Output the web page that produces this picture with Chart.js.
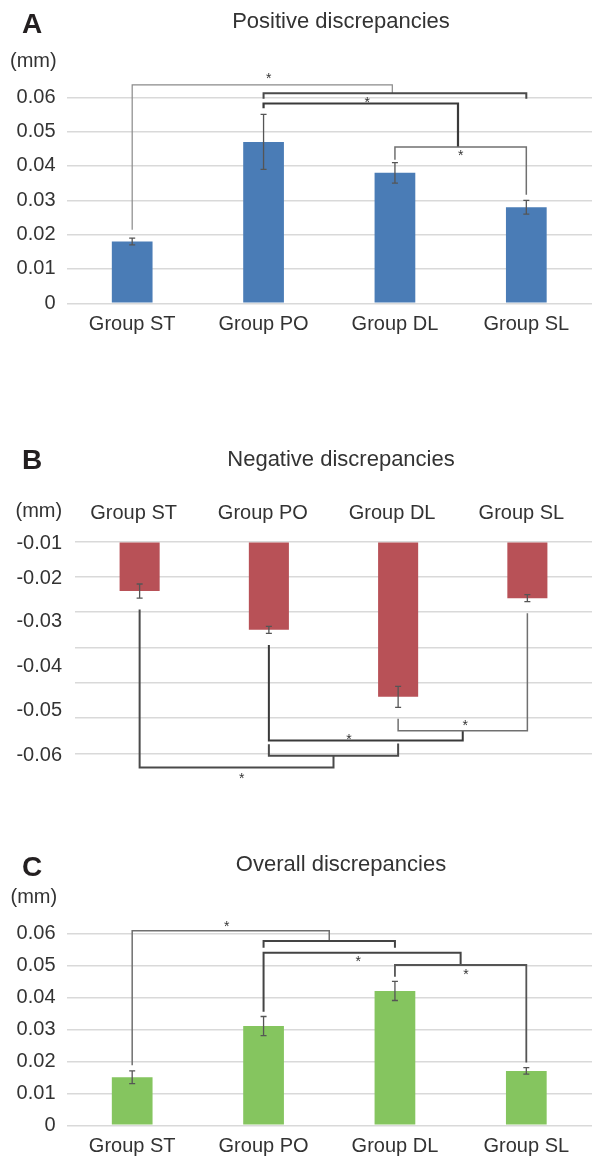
<!DOCTYPE html>
<html>
<head>
<meta charset="utf-8">
<script src="https://cdn.jsdelivr.net/npm/chart.js"></script>
<style>
  body { margin: 0; background: #fff; width: 592px; height: 1159px; position: relative; overflow: hidden; }
  canvas { position: absolute; left: 0; }
</style>
</head>
<body>
<canvas id="chartA" width="592" height="345" style="top:0"></canvas>
<canvas id="chartB" width="592" height="360" style="top:430px"></canvas>
<canvas id="chartC" width="592" height="319" style="top:840px"></canvas>
<script>
const groups = ['Group ST', 'Group PO', 'Group DL', 'Group SL'];

// means and error bar half-lengths (mm)
const posMean = [0.018, 0.047, 0.038, 0.028];
const posErr  = [0.001, 0.008, 0.003, 0.002];
const negMean = [-0.024, -0.035, -0.054, -0.026];
const negErr  = [0.002, 0.001, 0.003, 0.001];
const allMean = [0.015, 0.031, 0.042, 0.017];
const allErr  = [0.002, 0.003, 0.003, 0.001];

const posTicks = ['0', '0.01', '0.02', '0.03', '0.04', '0.05', '0.06'];
const allTicks = ['0', '0.01', '0.02', '0.03', '0.04', '0.05', '0.06'];
// panel B: gridlines every 0.01, labels sit off the gridlines in the original figure
const negGrid   = [-0.07, -0.06, -0.05, -0.04, -0.03, -0.02, -0.01];
const negTicks  = ['-0.01', '-0.02', '-0.03', '-0.04', '-0.05', '-0.06'];
const negTickAt = [-0.0104, -0.0204, -0.0327, -0.0455, -0.0578, -0.0706];

// significance brackets: [from cat, to cat, line level, end level at from, end level at to]
const posBrackets = [[0, 1.98, 0.0636, 0.0214, 0.0612], [1, 3, 0.0612, 0.0596, 0.0596],
                     [1, 2.48, 0.0582, 0.0568, 0.0455], [2, 3, 0.0455, 0.0418, 0.0316]];
const posStars = [[1.04, 0.0664], [1.79, 0.0596], [2.5, 0.0440]];

const negBrackets = [[0, 1.5, -0.0740, -0.0292, -0.0707], [1, 2, -0.0707, -0.0674, -0.0672],
                     [1, 2.5, -0.0664, -0.0393, -0.0636], [2, 3, -0.0636, -0.0602, -0.0303]];
const negStars = [[0.79, -0.0761], [1.62, -0.0650], [2.52, -0.0610]];

const allBrackets = [[0, 1.5, 0.0608, 0.0188, 0.0576], [1, 2, 0.0576, 0.0555, 0.0555],
                     [1, 2.5, 0.0539, 0.0355, 0.0501], [2, 3, 0.0501, 0.0464, 0.0196]];
const allStars = [[0.72, 0.0631], [1.72, 0.0522], [2.54, 0.0483]];

Chart.defaults.font.family = '"Liberation Sans", Arial, sans-serif';
Chart.defaults.color = '#333';
const FONT = '"Liberation Sans", Arial, sans-serif';
const GRID = '#d9d9d9';

function extras(c) {
  return {
    id: 'extras',
    afterDatasetsDraw(chart) {
      const {ctx, scales: {y}} = chart;
      const bars = chart.getDatasetMeta(0).data;
      ctx.save();
      ctx.strokeStyle = '#555';
      ctx.lineWidth = 1.3;
      c.mean.forEach((m, i) => {
        const px = bars[i].x;
        const t = y.getPixelForValue(m + c.err[i]), b = y.getPixelForValue(m - c.err[i]);
        ctx.beginPath();
        ctx.moveTo(px, t); ctx.lineTo(px, b);
        ctx.moveTo(px - 3, t); ctx.lineTo(px + 3, t);
        ctx.moveTo(px - 3, b); ctx.lineTo(px + 3, b);
        ctx.stroke();
      });
      ctx.restore();
    },
    afterDraw(chart) {
      const {ctx, scales: {x, y}} = chart;
      ctx.save();
      c.brackets.forEach((br, i) => {
        const x1 = x.getPixelForValue(br[0]), x2 = x.getPixelForValue(br[1]);
        ctx.strokeStyle = c.lineColors[i];
        ctx.lineWidth = c.lineWidths[i];
        ctx.beginPath();
        ctx.moveTo(x1, y.getPixelForValue(br[3]));
        ctx.lineTo(x1, y.getPixelForValue(br[2]));
        ctx.lineTo(x2, y.getPixelForValue(br[2]));
        ctx.lineTo(x2, y.getPixelForValue(br[4]));
        ctx.stroke();
      });
      ctx.fillStyle = '#333';
      ctx.font = '14px ' + FONT;
      ctx.textAlign = 'center';
      ctx.textBaseline = 'alphabetic';
      c.stars.forEach(s => ctx.fillText('*', x.getPixelForValue(s[0]), y.getPixelForValue(s[1]) + 8));
      ctx.textAlign = 'left';
      ctx.fillStyle = '#231f20';
      ctx.font = 'bold 28px ' + FONT;
      ctx.fillText(c.letter, 22, c.letterY);
      ctx.fillStyle = '#333';
      ctx.font = '22px ' + FONT;
      ctx.textAlign = 'center';
      ctx.fillText(c.title, 341, c.titleY);
      ctx.font = '20px ' + FONT;
      ctx.textAlign = 'left';
      ctx.fillText('(mm)', c.unitX, c.unitY);
      ctx.restore();
    }
  };
}

function makeChart(id, c) {
  const scales = {
    x: {
      position: c.xPos,
      grid: {display: false, drawTicks: false},
      border: {display: false},
      ticks: {font: {size: 20}, color: '#333', padding: c.xPad, labelOffset: c.labelOffset || 0, maxRotation: 0},
      afterFit: a => { a.height = c.xHeight; }
    },
    y: {
      min: c.min, max: c.max,
      grid: {color: GRID, lineWidth: 1.5, drawTicks: false},
      border: {display: false},
      afterBuildTicks: a => { if (c.grid) a.ticks = c.grid.map(v => ({value: v})); },
      ticks: {stepSize: 0.01, display: !c.tickAt, font: {size: 20}, color: '#333', padding: 11,
              callback: (v, i) => c.tickAt ? '' : c.ticks[i]},
      afterFit: a => { a.width = c.tickAt ? 0 : c.left; a.paddingTop = 0; a.paddingBottom = 0; }
    }
  };
  if (c.tickAt) {
    scales.yl = {
      position: 'left', min: c.min, max: c.max,
      grid: {display: false, drawTicks: false},
      border: {display: false},
      afterBuildTicks: a => { a.ticks = c.tickAt.map(v => ({value: v})); },
      ticks: {font: {size: 20}, color: '#333', padding: 13, callback: (v, i) => c.ticks[i]},
      afterFit: a => { a.width = c.left; a.paddingTop = 0; a.paddingBottom = 0; }
    };
  }
  return new Chart(document.getElementById(id), {
    type: 'bar',
    data: {
      labels: groups,
      datasets: [{data: c.mean, backgroundColor: c.color, base: c.base,
                   barPercentage: 0.31, categoryPercentage: 1}]
    },
    options: {
      responsive: false,
      animation: false,
      layout: {padding: c.padding},
      plugins: {legend: {display: false}, tooltip: {enabled: false}},
      scales
    },
    plugins: [extras(c)]
  });
}

makeChart('chartA', {
  mean: posMean, err: posErr, color: '#4a7cb6', min: 0, max: 0.06, ticks: posTicks,
  brackets: posBrackets, stars: posStars,
  lineColors: ['#8a8a8a', '#4a4a4a', '#3a3a3a', '#707070'], lineWidths: [1.2, 2, 2.2, 1.5],
  letter: 'A', letterY: 33, title: 'Positive discrepancies', titleY: 28, unitX: 10, unitY: 67,
  xPos: 'bottom', xPad: 9, xHeight: 41.7, left: 66.5,
  padding: {top: 97.3, bottom: 0, left: 0, right: 0}
});

makeChart('chartB', {
  mean: negMean, err: negErr, color: '#b85157', min: -0.07, max: -0.01, base: -0.01,
  grid: negGrid, ticks: negTicks, tickAt: negTickAt,
  brackets: negBrackets, stars: negStars,
  lineColors: ['#4a4a4a', '#4a4a4a', '#3a3a3a', '#707070'], lineWidths: [2, 2, 2, 1.5],
  letter: 'B', letterY: 39, title: 'Negative discrepancies', titleY: 36, unitX: 15.5, unitY: 87,
  xPos: 'top', xPad: 16.7, xHeight: 45, left: 75, labelOffset: -6,
  padding: {top: 66.7, bottom: 36.7, left: 0, right: 0}
});

makeChart('chartC', {
  mean: allMean, err: allErr, color: '#85c55f', min: 0, max: 0.06, ticks: allTicks,
  brackets: allBrackets, stars: allStars,
  lineColors: ['#707070', '#444444', '#444444', '#555555'], lineWidths: [1.5, 2, 2, 1.8],
  letter: 'C', letterY: 36, title: 'Overall discrepancies', titleY: 31, unitX: 10.5, unitY: 63,
  xPos: 'bottom', xPad: 9, xHeight: 33.7, left: 66.5,
  padding: {top: 93.3, bottom: 0, left: 0, right: 0}
});
</script>
</body>
</html>
